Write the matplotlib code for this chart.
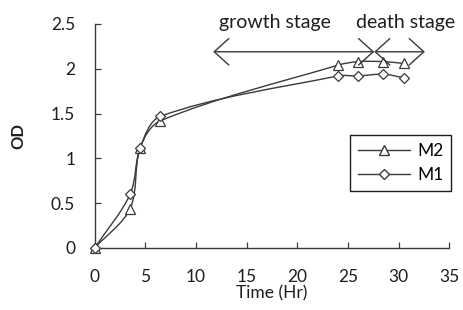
import matplotlib
matplotlib.use("Agg")
import matplotlib.pyplot as plt
import numpy as np
from matplotlib.path import Path
from matplotlib.patches import PathPatch
from matplotlib.lines import Line2D

# data
time_m2 = [0, 3.5, 4.5, 6.5, 24, 26, 28.5, 30.5]
od_m2 = [0, 0.44, 1.12, 1.42, 2.04, 2.08, 2.08, 2.06]
time_m1 = [0, 3.5, 4.5, 6.5, 24, 26, 28.5, 30.5]
od_m1 = [0, 0.60, 1.12, 1.47, 1.92, 1.92, 1.94, 1.90]

xticks = [0, 5, 10, 15, 20, 25, 30, 35]
yticks = [0, 0.5, 1, 1.5, 2, 2.5]

# stage arrows (growth: start -> boundary, death: boundary -> end)
growth_start, stage_boundary, death_end = 11.7, 27.6, 32.6
arrow_y = 2.19

LINE = "#3a3a3a"
TEXT = "#1e1e1e"


def smooth_path(ax, x, y):
    # smoothed line (chord-length cubic bezier), built in pixel space
    fig = ax.figure
    fig.canvas.draw()
    pts = ax.transData.transform(np.column_stack([x, y]))
    n = len(pts)
    d = np.hypot(*np.diff(pts, axis=0).T)
    tang = np.zeros_like(pts)
    for i in range(n):
        if i == 0:
            tang[i] = (pts[1] - pts[0]) / d[0]
        elif i == n - 1:
            tang[i] = (pts[-1] - pts[-2]) / d[-1]
        else:
            tang[i] = (pts[i + 1] - pts[i - 1]) / (d[i - 1] + d[i])
    verts = [pts[0]]
    codes = [Path.MOVETO]
    for i in range(n - 1):
        c1 = pts[i] + tang[i] * d[i] * 0.33
        c2 = pts[i + 1] - tang[i + 1] * d[i] * 0.33
        verts += [c1, c2, pts[i + 1]]
        codes += [Path.CURVE4] * 3
    verts = ax.transData.inverted().transform(np.array(verts))
    return Path(verts, codes)


def draw_series(ax, x, y, marker, ms):
    ax.add_patch(PathPatch(smooth_path(ax, x, y), fill=False, edgecolor=LINE, lw=1.0))
    ax.plot(x, y, linestyle="none", marker=marker, ms=ms, mfc="white",
            mec=LINE, mew=0.9, zorder=3, clip_on=False)


def main():
    plt.rcParams["font.family"] = ["Lato", "DejaVu Sans"]
    fig = plt.figure(figsize=(4.64, 3.10), dpi=100)
    ax = fig.add_axes([0.204, 0.2, 0.764, 0.7226])

    ax.set_xlim(0, 35)
    ax.set_ylim(0, 2.5)

    draw_series(ax, time_m2, od_m2, "^", 7.5)
    draw_series(ax, time_m1, od_m1, "D", 5.5)

    ax.set_xticks(xticks)
    ax.set_xticklabels([str(t) for t in xticks])
    ax.set_yticks(yticks)
    ax.set_yticklabels(["0", "0.5", "1", "1.5", "2", "2.5"])
    ax.tick_params(axis="both", direction="in", length=4.5, width=0.9,
                   color=LINE, labelsize=12.5, labelcolor=TEXT)
    ax.tick_params(axis="x", pad=15)
    ax.tick_params(axis="y", pad=14)
    for s in ("top", "right"):
        ax.spines[s].set_visible(False)
    for s in ("left", "bottom"):
        ax.spines[s].set_color(LINE)
        ax.spines[s].set_linewidth(1.0)

    ax.set_xlabel("Time (Hr)", fontsize=12.5, color=TEXT, labelpad=0.5)
    ax.set_ylabel("OD", fontsize=12, fontweight="bold", color=TEXT, labelpad=18)

    style = "<->,head_length=1.05,head_width=0.95"
    for a, b in [(growth_start, stage_boundary), (stage_boundary, death_end)]:
        ax.annotate("", xy=(b, arrow_y), xytext=(a, arrow_y),
                    arrowprops=dict(arrowstyle=style, color=LINE, lw=1.0,
                                    shrinkA=0, shrinkB=0),
                    annotation_clip=False)
    ax.text(17.8, 2.52, "growth stage", ha="center", va="center",
            fontsize=14, color=TEXT, clip_on=False)
    ax.text(30.7, 2.52, "death stage", ha="center", va="center",
            fontsize=14, color=TEXT, clip_on=False)

    handles = [
        Line2D([], [], color=LINE, lw=1.0, marker="^", ms=7.5, mfc="white", mec=LINE),
        Line2D([], [], color=LINE, lw=1.0, marker="D", ms=5.5, mfc="white", mec=LINE),
    ]
    leg = ax.legend(handles, ["M2", "M1"], loc="upper right",
                    bbox_to_anchor=(1.006, 0.504), fontsize=12.5, fancybox=False,
                    edgecolor=TEXT, framealpha=1, handlelength=3.0,
                    handletextpad=0.4, borderpad=0.45, labelspacing=0.45,
                    borderaxespad=0)
    leg.get_frame().set_linewidth(1.0)

    fig.savefig("out.png", dpi=100)


if __name__ == "__main__":
    main()
